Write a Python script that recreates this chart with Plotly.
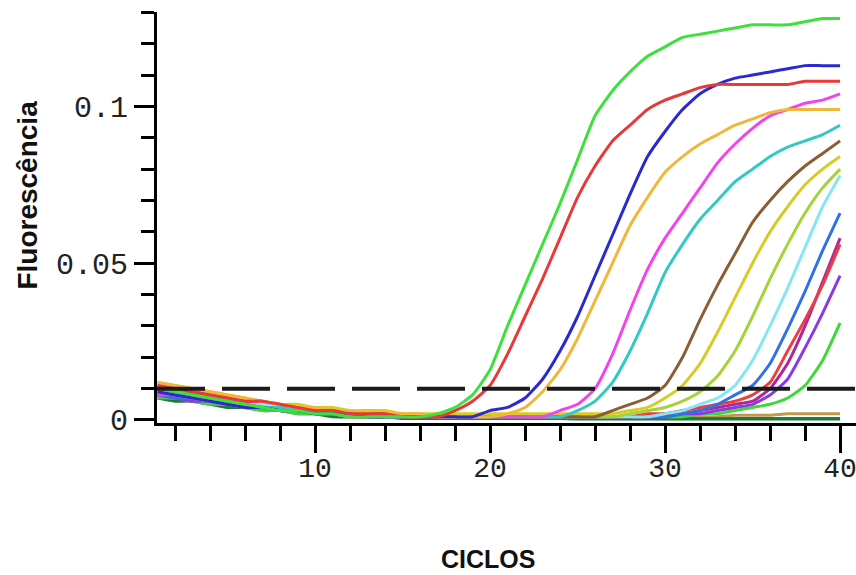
import plotly.graph_objects as go

cycles = list(range(1, 41))

# Fluorescence readings per curve (cycles 1..40)
green1 = [.010,.009,.008,.007,.006,.005,.004,.003,.003,.002,.002,.001,.001,.001,.001,.001,.002,.004,.008,.016,
          .030,.043,.056,.069,.083,.097,.105,.111,.116,.119,.122,.123,.124,.125,.126,.126,.126,.127,.128,.128]
red1 = [.011,.010,.009,.008,.007,.006,.006,.005,.004,.003,.003,.002,.002,.002,.001,.001,.001,.003,.006,.011,
        .021,.033,.045,.058,.071,.081,.089,.094,.099,.102,.104,.106,.107,.107,.107,.107,.107,.108,.108,.108]
blue1 = [.009,.008,.007,.006,.005,.004,.004,.003,.003,.002,.002,.002,.001,.001,.001,.001,.001,.001,.001,.003,
         .004,.007,.013,.022,.033,.046,.059,.072,.084,.092,.099,.104,.107,.109,.110,.111,.112,.113,.113,.113]
gold1 = [.012,.011,.010,.009,.008,.007,.006,.005,.004,.004,.003,.003,.002,.002,.002,.002,.001,.001,.001,.001,
         .002,.004,.009,.016,.026,.038,.050,.062,.071,.079,.084,.088,.091,.094,.096,.098,.099,.099,.099,.099]
magenta1 = [.008,.008,.007,.006,.005,.005,.004,.003,.003,.002,.002,.001,.001,.001,.001,.001,.001,.001,.001,.001,
            .001,.001,.001,.003,.005,.010,.021,.035,.048,.058,.066,.074,.082,.088,.093,.097,.099,.101,.102,.104]
cyan1 = [.009,.008,.007,.006,.006,.005,.004,.004,.003,.003,.002,.002,.002,.001,.001,.001,.001,.001,.001,.001,
         .001,.001,.001,.001,.003,.006,.012,.022,.034,.047,.056,.064,.070,.076,.080,.084,.087,.089,.091,.094]
brown1 = [.010,.009,.008,.007,.006,.005,.004,.004,.003,.003,.002,.002,.002,.002,.001,.001,.001,.001,.001,.001,
          .001,.001,.001,.001,.001,.001,.003,.005,.007,.011,.020,.032,.043,.053,.063,.070,.076,.081,.085,.089]
yellow1 = [.012,.011,.010,.009,.008,.007,.006,.005,.005,.004,.004,.003,.003,.003,.002,.002,.002,.002,.002,.002,
           .002,.002,.002,.002,.002,.002,.002,.003,.004,.007,.011,.018,.028,.039,.050,.060,.068,.075,.080,.084]
yellowgreen1 = [.009,.008,.007,.006,.005,.004,.004,.003,.003,.002,.002,.002,.001,.001,.001,.001,.001,.001,.001,.001,
                .001,.001,.001,.001,.001,.001,.001,.002,.003,.004,.006,.009,.014,.022,.033,.045,.056,.066,.074,.080]
lightcyan1 = [.010,.009,.008,.007,.006,.005,.005,.004,.003,.003,.002,.002,.002,.001,.001,.001,.001,.001,.001,.001,
              .001,.001,.001,.001,.001,.001,.001,.001,.001,.002,.003,.005,.007,.011,.019,.030,.042,.055,.068,.078]
blue2 = [.008,.007,.007,.006,.005,.004,.004,.003,.003,.002,.002,.002,.001,.001,.001,.001,.001,.001,.001,.001,
         .001,.001,.001,.001,.001,.001,.001,.001,.001,.001,.002,.003,.005,.008,.011,.018,.029,.041,.054,.066]
red2 = [.011,.010,.009,.008,.007,.006,.005,.004,.004,.003,.003,.002,.002,.002,.001,.001,.001,.001,.001,.001,
        .001,.001,.001,.001,.001,.001,.001,.001,.002,.002,.003,.004,.005,.006,.008,.012,.022,.032,.043,.056]
purple2 = [.009,.008,.008,.007,.006,.005,.004,.004,.003,.003,.002,.002,.002,.001,.001,.001,.001,.001,.001,.001,
           .001,.001,.001,.001,.001,.001,.001,.001,.001,.002,.002,.003,.004,.005,.006,.010,.018,.030,.044,.058]
violet2 = [.008,.007,.006,.006,.005,.004,.004,.003,.003,.002,.002,.002,.001,.001,.001,.001,.001,.001,.001,.001,
           .001,.001,.001,.001,.001,.001,.001,.001,.001,.001,.002,.002,.003,.004,.005,.008,.013,.023,.034,.046]
green2 = [.007,.007,.006,.005,.005,.004,.003,.003,.002,.002,.002,.001,.001,.001,.001,.001,.001,.001,.001,.001,
          .001,.001,.001,.001,.001,.001,.001,.001,.001,.001,.001,.002,.002,.003,.004,.005,.007,.011,.019,.031]
tan0 = [.010,.009,.008,.007,.006,.006,.005,.004,.004,.003,.003,.002,.002,.002,.002,.001,.001,.001,.001,.001,
        .001,.001,.001,.001,.001,.001,.001,.001,.001,.001,.001,.001,.001,.0015,.0015,.0015,.002,.002,.002,.002]
teal0 = [.008,.007,.006,.006,.005,.004,.004,.003,.003,.002,.002,.001,.001,.001,.001,.0005,.0005,.0005,.0005,.0005,
         .0005,.0005,.0005,.0005,.0005,.0005,.0005,.0005,.0005,.0005,.0005,.0005,.0005,.0005,.0005,.0005,.0005,.0005,.0005,.0005]
darkgreen0 = [.007,.006,.006,.005,.004,.004,.003,.003,.002,.002,.001,.001,.001,.001,.0005,.0005,.0005,.0005,.0005,.0005,
              .0005,.0005,.0005,.0005,.0003,.0003,.0003,.0003,.0003,.0003,.0003,.0003,.0003,.0003,.0003,.0003,.0003,.0003,.0003,.0003]

series = [
    ("tan0", tan0, "#c09850"),
    ("teal0", teal0, "#1f8a7a"),
    ("darkgreen0", darkgreen0, "#1e7a34"),
    ("green2", green2, "#3cd83c"),
    ("violet2", violet2, "#8a3ce0"),
    ("purple2", purple2, "#b02898"),
    ("red2", red2, "#e84040"),
    ("blue2", blue2, "#3070e8"),
    ("lightcyan1", lightcyan1, "#86e6f2"),
    ("yellowgreen1", yellowgreen1, "#a6d23a"),
    ("yellow1", yellow1, "#d8cc24"),
    ("brown1", brown1, "#8a5e32"),
    ("cyan1", cyan1, "#32c8c8"),
    ("magenta1", magenta1, "#f044ec"),
    ("gold1", gold1, "#f2b63a"),
    ("blue1", blue1, "#2a2ad0"),
    ("red1", red1, "#e83838"),
    ("green1", green1, "#3ee03e"),
]

threshold = 0.01
x_ticks = [10, 20, 30, 40]
y_ticks = [0, 0.05, 0.1]
y_tick_text = ["0", "0.05", "0.1"]

fig = go.Figure()
for name, vals, col in series:
    fig.add_trace(go.Scatter(x=cycles, y=vals, mode="lines", name=name,
                             line=dict(color=col, width=3, shape="spline", smoothing=0.5),
                             showlegend=False, hoverinfo="skip"))

fig.add_trace(go.Scatter(x=[0.97, 40.91], y=[threshold, threshold], mode="lines",
                         line=dict(color="#1a1a1a", width=4, dash="48px,17px"),
                         showlegend=False, hoverinfo="skip"))

fig.update_layout(
    width=856, height=575,
    margin=dict(l=157, r=0, t=12, b=152),
    paper_bgcolor="white", plot_bgcolor="white",
    xaxis=dict(range=[0.97, 40.91], showgrid=False, zeroline=False,
               showline=True, linecolor="black", linewidth=3,
               tickmode="array", tickvals=x_ticks, ticktext=[str(v) for v in x_ticks],
               ticks="outside", ticklen=27, tickwidth=2.5, tickcolor="black",
               ticklabeloverflow="allow", ticklabelstandoff=-10,
               tickfont=dict(family="Liberation Mono", size=28, color="#222"),
               minor=dict(dtick=2, tick0=0, ticks="outside", ticklen=15, tickwidth=2.5, tickcolor="black")),
    yaxis=dict(range=[-0.00096, 0.1301], showgrid=False, zeroline=False,
               showline=True, linecolor="black", linewidth=3,
               tickmode="array", tickvals=y_ticks, ticktext=y_tick_text,
               ticks="outside", ticklen=20, tickwidth=2.5, tickcolor="black",
               tickfont=dict(family="Liberation Mono", size=30, color="#222"),
               minor=dict(dtick=0.01, tick0=0, ticks="outside", ticklen=13, tickwidth=2.5, tickcolor="black")),
    annotations=[
        dict(text="<b>CICLOS</b>", xref="paper", yref="paper", x=0.4735, y=-0.33,
             xanchor="center", yanchor="middle", showarrow=False,
             font=dict(family="Liberation Sans", size=25, color="#111")),
        dict(text="<b>Fluorescência</b>", xref="paper", yref="paper", x=-0.185, y=0.555,
             xanchor="center", yanchor="middle", showarrow=False, textangle=-90,
             font=dict(family="Liberation Sans", size=28, color="#111")),
    ],
)

fig.write_html("out.html")
